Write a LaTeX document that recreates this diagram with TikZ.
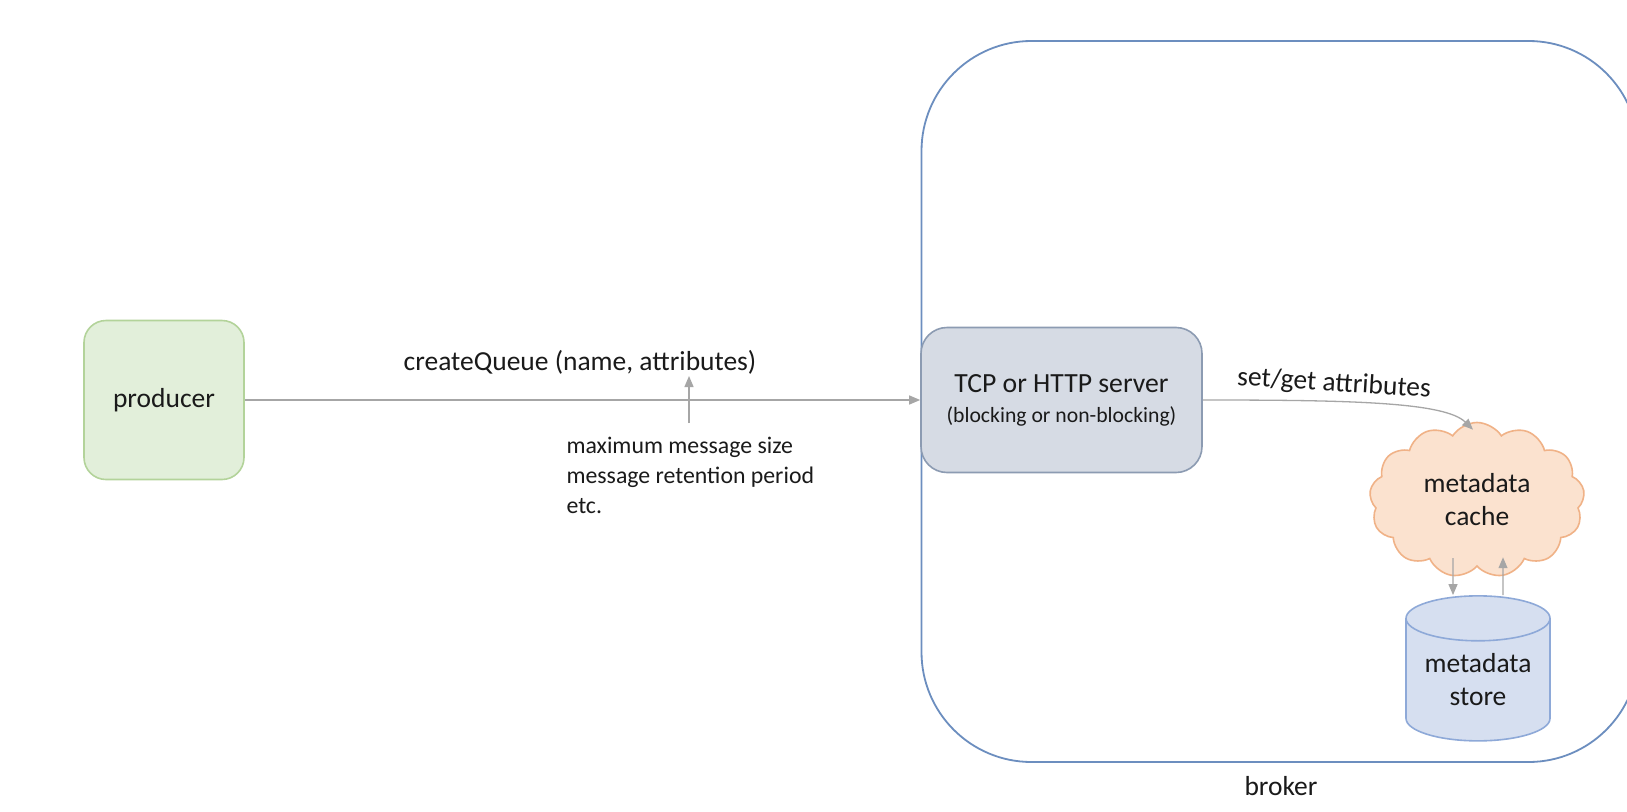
\documentclass[tikz,border=0pt]{standalone}
\usepackage{fontspec}
\setmainfont{Carlito}
\usetikzlibrary{arrows.meta,shapes.geometric,shapes.symbols,calc}
\definecolor{prodfill}{HTML}{E2EFDA}
\definecolor{proddraw}{HTML}{B3D39A}
\definecolor{tcpfill}{HTML}{D6DBE4}
\definecolor{tcpdraw}{HTML}{8C9BB2}
\definecolor{cloudfill}{HTML}{FBE2CF}
\definecolor{clouddraw}{HTML}{F0B287}
\definecolor{cylfill}{HTML}{D6DFF0}
\definecolor{cyldraw}{HTML}{8EA9D8}
\definecolor{brokerdraw}{HTML}{6C8EBF}
\definecolor{arrgray}{HTML}{A6A6A6}
\definecolor{txt}{HTML}{1A1A1A}
\begin{document}
\begin{tikzpicture}[x=1pt,y=-1pt,
  bigtext/.style={font=\fontsize{27.5}{33}\selectfont, text=txt},
  smalltext/.style={font=\fontsize{23.8}{30}\selectfont, text=txt},
  arr/.style={draw=arrgray, line width=1.3pt, -{Triangle[length=11pt,width=9pt]}},
  boxshape/.style={rounded corners=22pt, line width=1.6pt, align=center, inner sep=0pt}
]
\useasboundingbox (0,0) rectangle (1627,811);
\clip (0,0) rectangle (1627,811);
\fill[white] (0,0) rectangle (1627,811);

% broker boundary
\node (broker) [draw=brokerdraw, line width=1.8pt, rounded corners=110pt,
  minimum width=717pt, minimum height=721pt, inner sep=0pt] at (1280,401.5) {};
\node (brokerlabel) [bigtext] at (1281,786) {broker};

% producer
\node (prod) [boxshape, fill=prodfill, draw=proddraw, minimum width=160pt, minimum height=159pt, bigtext] at (164,400) {producer};

% TCP server
\node (tcp) [boxshape, rounded corners=26pt, fill=tcpfill, draw=tcpdraw, minimum width=281pt, minimum height=145pt,
  font=\fontsize{27.7}{30}\selectfont, text=txt] at (1061.5,400)
  {TCP or HTTP server\\{\fontsize{21.7}{26}\selectfont (blocking or non-blocking)}};

% cloud
\node (cache) [cloud, cloud puffs=13, cloud puff arc=115, aspect=1.4, fill=cloudfill, draw=clouddraw, line width=1.6pt,
  minimum width=215pt, minimum height=155pt, inner sep=0pt, align=center, bigtext, text width=120pt] at (1477,500)
  {metadata\\cache};

% cylinder
\node (store) [cylinder, shape border rotate=90, shape aspect=0.42, fill=cylfill, draw=cyldraw, line width=1.6pt,
  minimum width=144pt, minimum height=145pt, inner sep=0pt, align=center, bigtext] at (1478,680)
  {metadata\\store};

% labels
\node (cq) [bigtext] at (580,362) {createQueue (name, attributes)};
\node (attrs) [smalltext, align=left, anchor=west] at (563,475)
  {maximum message size\\message retention period\\etc.};
\node (sg) [bigtext, rotate=-3.5] at (1334,384) {set/get attributes};

% connectors
\draw[arr] (prod.east) -- (tcp.west);
\coordinate (upstart) at (689,423);
\draw[arr] (upstart) -- (689,376);
\draw[arr] (tcp.east) .. controls (1350,400) and (1445,402) .. ($(cache.north)+(-4,8)$);
\draw[arr] ($(cache.south)+(-24,-9)$) -- ($(store.north)+(-25,0)$);
\draw[arr] ($(store.north)+(25,0)$) -- ($(cache.south)+(26,-10)$);
\end{tikzpicture}
\end{document}
